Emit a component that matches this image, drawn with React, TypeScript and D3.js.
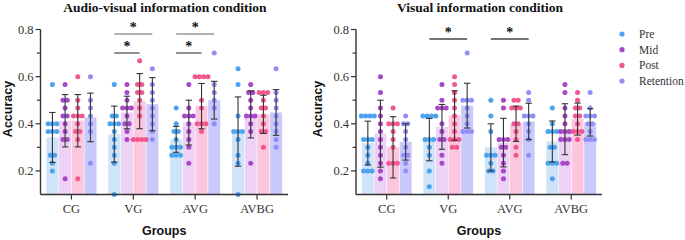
import React from "react";
import * as d3 from "d3";

const categories = ["CG", "VG", "AVG", "AVBG"];
const seriesNames = ["Pre", "Mid", "Post", "Retention"];
const yMajorTicks = [0.2, 0.4, 0.6, 0.8];
const yMinorTicks = [0.3, 0.5, 0.7];

// Audio-visual information condition: [category][series]
const avMeans = [
  [0.342, 0.413, 0.413, 0.427],
  [0.356, 0.448, 0.496, 0.483],
  [0.334, 0.405, 0.475, 0.5],
  [0.367, 0.44, 0.44, 0.448],
];
const avSds = [
  [0.106, 0.111, 0.111, 0.103],
  [0.119, 0.069, 0.117, 0.113],
  [0.055, 0.095, 0.096, 0.08],
  [0.147, 0.1, 0.081, 0.097],
];
const avDots = [
  [
    [0.567, 0.4, 0.4, 0.4, 0.367, 0.367, 0.367, 0.267, 0.267, 0.233, 0.2],
    [0.567, 0.5, 0.5, 0.467, 0.433, 0.433, 0.4, 0.367, 0.333, 0.333, 0.167],
    [0.6, 0.5, 0.467, 0.433, 0.433, 0.433, 0.4, 0.367, 0.367, 0.333, 0.167],
    [0.6, 0.5, 0.467, 0.433, 0.4, 0.367, 0.233],
  ],
  [
    [0.567, 0.433, 0.433, 0.4, 0.4, 0.4, 0.367, 0.333, 0.3, 0.267, 0.233, 0.1],
    [0.567, 0.533, 0.5, 0.467, 0.467, 0.467, 0.433, 0.4, 0.4, 0.367, 0.333],
    [0.667, 0.567, 0.567, 0.533, 0.533, 0.5, 0.467, 0.433, 0.333, 0.333, 0.333, 0.333],
    [0.633, 0.567, 0.533, 0.5, 0.467, 0.433, 0.4, 0.367, 0.333],
  ],
  [
    [0.467, 0.4, 0.367, 0.367, 0.333, 0.3, 0.3, 0.3, 0.267, 0.267, 0.267],
    [0.567, 0.467, 0.433, 0.433, 0.433, 0.4, 0.367, 0.333, 0.3, 0.233],
    [0.6, 0.6, 0.6, 0.6, 0.5, 0.467, 0.4, 0.4, 0.4, 0.367],
    [0.7, 0.567, 0.533, 0.5, 0.467, 0.4],
  ],
  [
    [0.633, 0.567, 0.433, 0.367, 0.367, 0.367, 0.333, 0.267, 0.233, 0.1],
    [0.567, 0.533, 0.533, 0.5, 0.467, 0.433, 0.433, 0.433, 0.4, 0.367, 0.233],
    [0.533, 0.533, 0.533, 0.5, 0.467, 0.467, 0.433, 0.4, 0.367, 0.367, 0.3],
    [0.633, 0.533, 0.5, 0.467, 0.433, 0.4, 0.367, 0.333, 0.3],
  ],
];

// Visual information condition
const vMeans = [
  [0.318, 0.358, 0.3, 0.323],
  [0.333, 0.387, 0.435, 0.477],
  [0.3, 0.32, 0.4, 0.41],
  [0.325, 0.377, 0.42, 0.406],
];
const vSds = [
  [0.093, 0.142, 0.13, 0.077],
  [0.09, 0.095, 0.105, 0.095],
  [0.1, 0.103, 0.075, 0.077],
  [0.087, 0.108, 0.068, 0.058],
];
const vDots = [
  [
    [0.433, 0.433, 0.433, 0.433, 0.333, 0.333, 0.333, 0.3, 0.267, 0.233, 0.2, 0.2, 0.2],
    [0.6, 0.533, 0.467, 0.433, 0.4, 0.367, 0.333, 0.3, 0.267, 0.233, 0.2, 0.167],
    [0.467, 0.4, 0.4, 0.4, 0.367, 0.333, 0.3, 0.233, 0.233, 0.233],
    [0.433, 0.4, 0.4, 0.367, 0.333, 0.3, 0.267, 0.267, 0.233, 0.2],
  ],
  [
    [0.433, 0.433, 0.433, 0.433, 0.333, 0.333, 0.333, 0.3, 0.267, 0.2, 0.133],
    [0.567, 0.5, 0.467, 0.467, 0.467, 0.4, 0.367, 0.333, 0.333, 0.267, 0.233],
    [0.6, 0.567, 0.533, 0.5, 0.467, 0.433, 0.4, 0.367, 0.333, 0.333, 0.333, 0.3, 0.3],
    [0.7, 0.5, 0.5, 0.5, 0.467, 0.433, 0.4, 0.367, 0.367, 0.367],
  ],
  [
    [0.5, 0.433, 0.367, 0.267, 0.267, 0.267, 0.233, 0.2, 0.2],
    [0.5, 0.467, 0.333, 0.333, 0.333, 0.3, 0.3, 0.267, 0.233, 0.2, 0.167],
    [0.5, 0.5, 0.467, 0.467, 0.467, 0.4, 0.4, 0.367, 0.333, 0.3, 0.267],
    [0.533, 0.5, 0.433, 0.433, 0.433, 0.4, 0.367, 0.333, 0.267],
  ],
  [
    [0.467, 0.4, 0.367, 0.367, 0.367, 0.3, 0.3, 0.233, 0.233, 0.233, 0.167],
    [0.567, 0.533, 0.467, 0.433, 0.4, 0.367, 0.367, 0.367, 0.333, 0.333, 0.333, 0.233, 0.233],
    [0.533, 0.5, 0.467, 0.467, 0.433, 0.433, 0.4, 0.367, 0.367, 0.367, 0.333],
    [0.533, 0.467, 0.433, 0.433, 0.433, 0.4, 0.4, 0.367, 0.333, 0.333, 0.333],
  ],
];

// significance brackets: group, from series, to series, level (0 = top)
const avSig = [
  { group: "VG", from: "Pre", to: "Retention", level: 0 },
  { group: "VG", from: "Pre", to: "Post", level: 1 },
  { group: "AVG", from: "Pre", to: "Retention", level: 0 },
  { group: "AVG", from: "Pre", to: "Post", level: 1 },
];
const vSig = [
  { group: "VG", from: "Pre", to: "Retention", level: 0 },
  { group: "AVG", from: "Pre", to: "Retention", level: 0 },
];

const dotColors = ["#4aa3f0", "#a847c9", "#f2568f", "#8f8ff6"];
const barColors = ["#cfe4f8", "#eed2f6", "#fcc7de", "#c9c9fb"];

const SERIF = "'Liberation Serif', 'Times New Roman', serif";
const SANS = "'Liberation Sans', Arial, sans-serif";

type PanelProps = {
  title: string;
  titleX: number;
  x0: number;
  x1: number;
  labelX: number;
  means: number[][];
  sds: number[][];
  dots: number[][][];
  sig: { group: string; from: string; to: string; level: number }[];
  sigTop: number;
  sigColors: string[];
};

function Panel(p: PanelProps) {
  const y = d3.scaleLinear().domain([0.1, 0.8]).range([194.5, 29.5]);
  const x = d3
    .scaleBand<string>()
    .domain(categories)
    .range([p.x0, p.x1])
    .paddingInner(0.19)
    .paddingOuter(0.095);
  const xs = d3
    .scaleBand<string>()
    .domain(seriesNames)
    .range([0, x.bandwidth()])
    .paddingInner(0.05);
  const axisColor = "#333";
  const spacing = 4.3;

  return (
    <g>
      <text
        x={p.titleX}
        y={12}
        textAnchor="middle"
        fontFamily={SERIF}
        fontWeight="bold"
        fontSize={13.5}
        fill="#111"
      >
        {p.title}
      </text>
      {/* bars */}
      {categories.map((c, ci) =>
        seriesNames.map((s, si) => (
          <rect
            key={`b-${c}-${s}`}
            x={(x(c) as number) + (xs(s) as number)}
            y={y(p.means[ci][si])}
            width={xs.bandwidth()}
            height={y(0.1) - y(p.means[ci][si])}
            fill={barColors[si]}
          />
        ))
      )}
      {/* dots */}
      {categories.map((c, ci) =>
        seriesNames.map((s, si) => {
          const cx = (x(c) as number) + (xs(s) as number) + xs.bandwidth() / 2;
          const groups = d3.group(p.dots[ci][si], (v) => v);
          const out: any[] = [];
          groups.forEach((vals, v) => {
            const n = vals.length;
            vals.forEach((_, i) => {
              out.push(
                <circle
                  key={`d-${c}-${s}-${v}-${i}`}
                  cx={cx + (i - (n - 1) / 2) * spacing}
                  cy={y(v)}
                  r={2.5}
                  fill={dotColors[si]}
                />
              );
            });
          });
          return out;
        })
      )}
      {/* error bars */}
      {categories.map((c, ci) =>
        seriesNames.map((s, si) => {
          const cx = (x(c) as number) + (xs(s) as number) + xs.bandwidth() / 2;
          const m = p.means[ci][si];
          const sd = p.sds[ci][si];
          const yt = y(m + sd);
          const yb = y(m - sd);
          return (
            <g key={`e-${c}-${s}`} stroke="#333" strokeWidth={1.1}>
              <line x1={cx} x2={cx} y1={yt} y2={yb} />
              <line x1={cx - 3.2} x2={cx + 3.2} y1={yt} y2={yt} />
              <line x1={cx - 3.2} x2={cx + 3.2} y1={yb} y2={yb} />
            </g>
          );
        })
      )}
      {/* axes */}
      <line x1={p.x0} x2={p.x0} y1={y(0.8)} y2={y(0.1)} stroke={axisColor} strokeWidth={1.4} />
      <line x1={p.x0} x2={p.x1} y1={y(0.1)} y2={y(0.1)} stroke={axisColor} strokeWidth={1.4} />
      {yMajorTicks.map((t) => (
        <g key={`yt-${t}`}>
          <line x1={p.x0 - 5} x2={p.x0} y1={y(t)} y2={y(t)} stroke={axisColor} strokeWidth={1.2} />
          <text
            x={p.x0 - 7}
            y={y(t) + 4}
            textAnchor="end"
            fontFamily={SERIF}
            fontSize={12.5}
            fill="#333"
          >
            {d3.format(".1f")(t)}
          </text>
        </g>
      ))}
      {yMinorTicks.map((t) => (
        <line key={`ym-${t}`} x1={p.x0 - 3.5} x2={p.x0} y1={y(t)} y2={y(t)} stroke={axisColor} strokeWidth={1.2} />
      ))}
      {categories.map((c) => {
        const cx = (x(c) as number) + x.bandwidth() / 2;
        return (
          <g key={`xt-${c}`}>
            <line x1={cx} x2={cx} y1={y(0.1)} y2={y(0.1) + 5} stroke={axisColor} strokeWidth={1.2} />
            <text x={cx} y={213} textAnchor="middle" fontFamily={SERIF} fontSize={12.5} fill="#333">
              {c}
            </text>
          </g>
        );
      })}
      <text
        x={(p.x0 + p.x1) / 2}
        y={235}
        textAnchor="middle"
        fontFamily={SANS}
        fontWeight="bold"
        fontSize={12.5}
        fill="#111"
      >
        Groups
      </text>
      <text
        transform={`translate(${p.labelX},109) rotate(-90)`}
        textAnchor="middle"
        fontFamily={SANS}
        fontWeight="bold"
        fontSize={12.5}
        fill="#111"
      >
        Accuracy
      </text>
      {/* significance */}
      {p.sig.map((sg, i) => {
        const gx = x(sg.group) as number;
        const xa = gx + (xs(sg.from) as number) + xs.bandwidth() / 2;
        const xb = gx + (xs(sg.to) as number) + xs.bandwidth() / 2;
        const ly = p.sigTop + sg.level * 19;
        return (
          <g key={`s-${i}`}>
            <line x1={xa} x2={xb} y1={ly} y2={ly} stroke={p.sigColors[sg.level]} strokeWidth={1.3} />
            <text
              x={(xa + xb) / 2}
              y={ly - 2}
              textAnchor="middle"
              fontFamily={SERIF}
              fontWeight="bold"
              fontSize={14}
              fill="#111"
            >
              *
            </text>
          </g>
        );
      })}
    </g>
  );
}

export default function App() {
  return (
    <svg
      width={685}
      height={240}
      style={{ position: "absolute", left: 0, top: 0, background: "#fff" }}
    >
      <rect x={0} y={0} width={685} height={240} fill="#fff" />
      <Panel
        title="Audio-visual information condition"
        titleX={165}
        x0={40.5}
        x1={288}
        labelX={12}
        means={avMeans}
        sds={avSds}
        dots={avDots}
        sig={avSig}
        sigTop={34}
        sigColors={["#999", "#555"]}
      />
      <Panel
        title="Visual information condition"
        titleX={480}
        x0={356}
        x1={602}
        labelX={322}
        means={vMeans}
        sds={vSds}
        dots={vDots}
        sig={vSig}
        sigTop={39}
        sigColors={["#444", "#444"]}
      />
      {seriesNames.map((s, i) => (
        <g key={`lg-${s}`}>
          <circle cx={622} cy={34 + i * 15.7} r={2.6} fill={dotColors[i]} />
          <text x={639} y={34 + i * 15.7 + 4} fontFamily={SERIF} fontSize={11.5} fill="#333">
            {s}
          </text>
        </g>
      ))}
    </svg>
  );
}
